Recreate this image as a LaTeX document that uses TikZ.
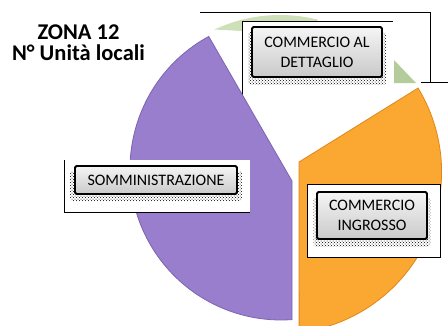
\documentclass[tikz,border=0pt]{standalone}
\usepackage{fontspec}
\setmainfont{Carlito}
\usetikzlibrary{calc,patterns,shadows}
\definecolor{viola}{RGB}{152,126,204}
\definecolor{violascuro}{RGB}{124,100,176}
\definecolor{arancio}{RGB}{250,168,50}
\definecolor{aranciouro}{RGB}{226,134,24}
\definecolor{verde}{RGB}{180,204,155}
\definecolor{verdechiaro}{RGB}{206,224,184}

\begin{document}
\begin{tikzpicture}[x=1pt,y=1pt,
    frame/.style={line width=.9pt},
    lbox/.style={draw=black, line width=1.8pt, rounded corners=1.5pt,
      top color=gray!8, bottom color=gray!42, inner sep=0pt, align=center,
      font=\fontsize{16}{20}\selectfont,
      general shadow={pattern=crosshatch dots, pattern color=black, shadow yshift=-6pt, shadow scale=1.06}},
    ttl/.style={font=\fontsize{22.5}{22.5}\selectfont\bfseries, inner sep=0pt, anchor=base}]
  \useasboundingbox (0,0) rectangle (448,325);
  \clip (0,0) rectangle (448,325);
  \coordinate(P)at(281,156);\coordinate(O)at(280,153);\coordinate(G)at(280,155);
  % fetta verde, quasi tutta coperta
  \fill[verdechiaro]($(G)+(115:155)$) arc[start angle=115,end angle=76,radius=155]--(317.5,304)--(242,304)--(242,294)--cycle;
  \fill[verde](394,265)--(416,242)--(394,242)--cycle;
  % cornici dietro
  \draw[frame](200,313)-|(430.7,243) (421,243)--(448,243);
  \draw[frame](393,304)-|(242,225);
  % fette viola e arancio
  \filldraw[fill=viola, draw=violascuro, line width=.8pt]($(P)+(118.6:151)$) arc[start angle=118.6,end angle=274.2,radius=151]--(292,144)--cycle;
  \filldraw[fill=arancio, draw=aranciouro, line width=.8pt](299,163)--($(O)+(31.3:161.6)$) arc[start angle=31.3,end angle=-83.2,radius=161.6]--cycle;
  % cornici bianche
  \fill[white](64,113) rectangle (250,165);
  \draw[frame](64,165)|-(250,113);
  \filldraw[frame, fill=white](307,68) rectangle (440,141);
  % etichette
  \foreach \n/\x/\y/\w/\h/\t in {somm/156/145/162/28/{SOMMINISTRAZIONE},
      dett/317/273/130/50/{COMMERCIO AL\\DETTAGLIO},
      ingr/372/109.5/110/47/{COMMERCIO\\INGROSSO}}{
    \node[lbox, minimum width=\w pt, minimum height=\h pt](\n) at (\x,\y) {\t};
  }
  % titolo
  \node[ttl](t1) at (78.5,286) {ZONA 12};
  \node[ttl](t2) at (78.5,265) {N° Unità locali};
\end{tikzpicture}
\end{document}
